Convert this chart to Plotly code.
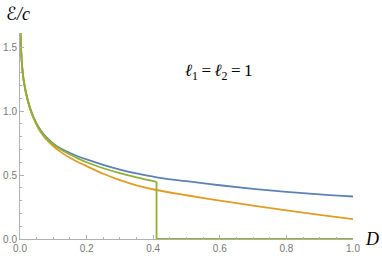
import plotly.graph_objects as go

D = [0.001, 0.003, 0.006, 0.01, 0.015, 0.02, 0.03, 0.04, 0.055, 0.07, 0.085,
     0.1, 0.125, 0.15, 0.175, 0.2, 0.25, 0.3, 0.35, 0.41, 0.5, 0.6, 0.7, 0.8, 0.9, 1.0]
blue = [1.75, 1.50, 1.36, 1.26, 1.18, 1.12, 1.025, 0.957, 0.878, 0.823, 0.78,
        0.745, 0.703, 0.672, 0.645, 0.622, 0.58, 0.543, 0.512, 0.482, 0.452, 0.42, 0.392, 0.368, 0.348, 0.332]
orange = [1.75, 1.50, 1.36, 1.26, 1.18, 1.118, 1.02, 0.95, 0.866, 0.808, 0.762,
          0.725, 0.675, 0.635, 0.60, 0.57, 0.51, 0.46, 0.42, 0.383, 0.342, 0.30, 0.26, 0.223, 0.189, 0.156]
D_green = [0.001, 0.003, 0.006, 0.01, 0.015, 0.02, 0.03, 0.04, 0.055, 0.07, 0.085,
           0.1, 0.125, 0.15, 0.175, 0.2, 0.25, 0.3, 0.35, 0.41]
green = [1.75, 1.50, 1.36, 1.26, 1.18, 1.12, 1.023, 0.953, 0.872, 0.815, 0.772,
         0.74, 0.695, 0.66, 0.628, 0.60, 0.553, 0.515, 0.482, 0.447]
D_green_tail = [0.41, 0.41, 1.0]
green_tail = [0.447, 0.0, 0.0]

xticks = [0.0, 0.2, 0.4, 0.6, 0.8, 1.0]
yticks = [0.0, 0.5, 1.0, 1.5]

fig = go.Figure()
fig.add_trace(go.Scatter(x=D, y=blue, mode="lines", line=dict(color="#5E81B5", width=1.8, shape="spline", smoothing=1)))
fig.add_trace(go.Scatter(x=D, y=orange, mode="lines", line=dict(color="#E19C24", width=1.8, shape="spline", smoothing=1)))
fig.add_trace(go.Scatter(x=D_green, y=green, mode="lines", line=dict(color="#8FB032", width=1.8, shape="spline", smoothing=1)))
fig.add_trace(go.Scatter(x=D_green_tail, y=green_tail, mode="lines", line=dict(color="#8FB032", width=1.8)))

axcommon = dict(showgrid=False, zeroline=False, showline=True, linecolor="#b0b0b0", linewidth=1,
                ticks="inside", ticklen=4, tickcolor="#b0b0b0", automargin=False,
                tickfont=dict(family="Liberation Sans, Arial, sans-serif", size=10, color="#777777"))
fig.update_xaxes(range=[0, 1.0], tickvals=xticks, ticktext=[f"{v:.1f}" for v in xticks],
                 minor=dict(dtick=0.05, ticks="inside", ticklen=2, tickcolor="#b0b0b0"), **axcommon)
fig.update_yaxes(range=[0, 1.61], tickvals=yticks, ticktext=[f"{v:.1f}" for v in yticks],
                 minor=dict(dtick=0.1, ticks="inside", ticklen=2, tickcolor="#b0b0b0"), **axcommon)

serif = "Liberation Serif, DejaVu Serif, serif"
fig.add_annotation(x=-0.006, y=1.097, xref="paper", yref="paper",
                   text="<span style='font-family:DejaVu Sans'>ℰ</span><i>/c</i>", showarrow=False,
                   font=dict(family=serif, size=18, color="black"), xanchor="center", yanchor="middle")
fig.add_annotation(x=1.057, y=0.0, xref="paper", yref="paper", text="<i>D</i>", showarrow=False,
                   font=dict(family=serif, size=18, color="black"), xanchor="center", yanchor="middle")
fig.add_annotation(x=0.595, y=1.305, xref="x", yref="y",
                   text="<i>ℓ</i><sub>1</sub>\u2009=\u2009<i>ℓ</i><sub>2</sub>\u2009=\u20091",
                   showarrow=False, font=dict(family=serif, size=17, color="black"), xanchor="center", yanchor="middle")

fig.update_layout(width=382, height=256, margin=dict(l=20, r=29, t=33, b=17, autoexpand=False),
                  plot_bgcolor="white", paper_bgcolor="white", showlegend=False)
fig.write_html("out.html", config={"displayModeBar": False},
               post_script="document.body.style.margin='0';document.body.style.overflow='hidden';")
